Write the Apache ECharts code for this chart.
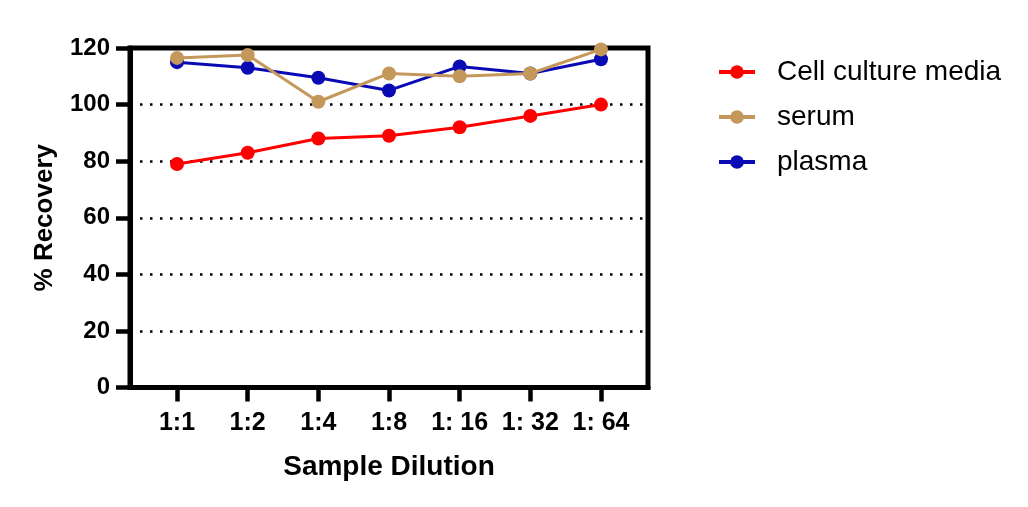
<!DOCTYPE html>
<html>
<head>
<meta charset="utf-8">
<script src="https://cdn.jsdelivr.net/npm/echarts@6/dist/echarts.min.js"></script>
<style>
  html, body { margin: 0; background: #fff; }
  #chart { width: 1028px; height: 507px; }
</style>
</head>
<body>
<div id="chart"></div>
<script>
// values
const dilutions = ['1:1', '1:2', '1:4', '1:8', '1: 16', '1: 32', '1: 64']
const cellCultureMedia = [79, 83, 88, 89, 92, 96, 100]
const serum = [116.5, 117.5, 101, 111, 110, 111, 119.5]
const plasma = [115, 113, 109.5, 105, 113.5, 111, 116]
const yTicks = [0, 20, 40, 60, 80, 100, 120]

const font = 'Liberation Sans, Arial, sans-serif'
const yMin = yTicks[0]
const yMax = yTicks[yTicks.length - 1]
const yStep = yTicks[1] - yTicks[0]

function lineSeries(name, data, color, z) {
  return {
    name: name,
    type: 'line',
    xAxisIndex: 1,
    yAxisIndex: 1,
    data: data,
    z: z,
    symbol: 'circle',
    symbolSize: 14,
    color: color,
    lineStyle: { width: 3, color: color },
    itemStyle: { color: color },
  }
}

const chart = echarts.init(document.getElementById('chart'), null, { renderer: 'canvas' })

chart.setOption({
  animation: false,
  backgroundColor: '#fff',
  textStyle: { fontFamily: font, color: '#000' },
  // grid 0 = the box with the y scale, grid 1 = the inset category band for the data
  grid: [
    { left: 130, right: 380, top: 48, bottom: 119.5, show: true, borderColor: '#000', borderWidth: 5, containLabel: false },
    { left: 141.7, right: 391.7, top: 48, bottom: 119.5, containLabel: false },
  ],
  xAxis: [
    {
      gridIndex: 0,
      type: 'value',
      min: 0,
      max: 1,
      axisLine: { show: true, lineStyle: { color: '#000', width: 5 } },
      axisTick: { show: false },
      axisLabel: { show: false },
      splitLine: { show: false },
    },
    {
      gridIndex: 1,
      type: 'category',
      data: dilutions,
      boundaryGap: true,
      axisLine: { show: false },
      axisTick: { show: true, alignWithLabel: true, length: 14, lineStyle: { color: '#000', width: 4.5 } },
      axisLabel: { margin: 23, fontSize: 25, fontWeight: 'bold', color: '#000', fontFamily: font, interval: 0 },
      name: 'Sample Dilution',
      nameLocation: 'middle',
      nameGap: 66,
      nameTextStyle: { fontSize: 28, fontWeight: 'bold', color: '#000', fontFamily: font },
    },
  ],
  yAxis: [
    {
      gridIndex: 0,
      type: 'value',
      min: yMin,
      max: yMax,
      interval: yStep,
      axisLine: { show: true, lineStyle: { color: '#000', width: 5 } },
      axisTick: { show: true, length: 14, lineStyle: { color: '#000', width: 4.5 } },
      axisLabel: { margin: 20, fontSize: 24, fontWeight: 'bold', color: '#000', fontFamily: font },
      splitLine: { show: true, lineStyle: { color: '#000', width: 2.5, type: [2.5, 7.5] } },
      name: '% Recovery',
      nameLocation: 'middle',
      nameGap: 72,
      nameTextStyle: { fontSize: 26, fontWeight: 'bold', color: '#000', fontFamily: font },
    },
    {
      gridIndex: 1,
      type: 'value',
      min: yMin,
      max: yMax,
      show: false,
    },
  ],
  legend: {
    orient: 'vertical',
    left: 712,
    top: 53,
    itemWidth: 36,
    itemHeight: 17,
    itemGap: 17,
    data: ['Cell culture media', 'serum', 'plasma'],
    lineStyle: { width: 4 },
    textStyle: { fontSize: 28, color: '#000', fontFamily: font, padding: [0, 0, 0, 17] },
  },
  series: [
    lineSeries('Cell culture media', cellCultureMedia, '#ff0000', 4),
    lineSeries('serum', serum, '#c4985a', 3),
    lineSeries('plasma', plasma, '#0a0ab4', 2),
  ],
})
</script>
</body>
</html>
